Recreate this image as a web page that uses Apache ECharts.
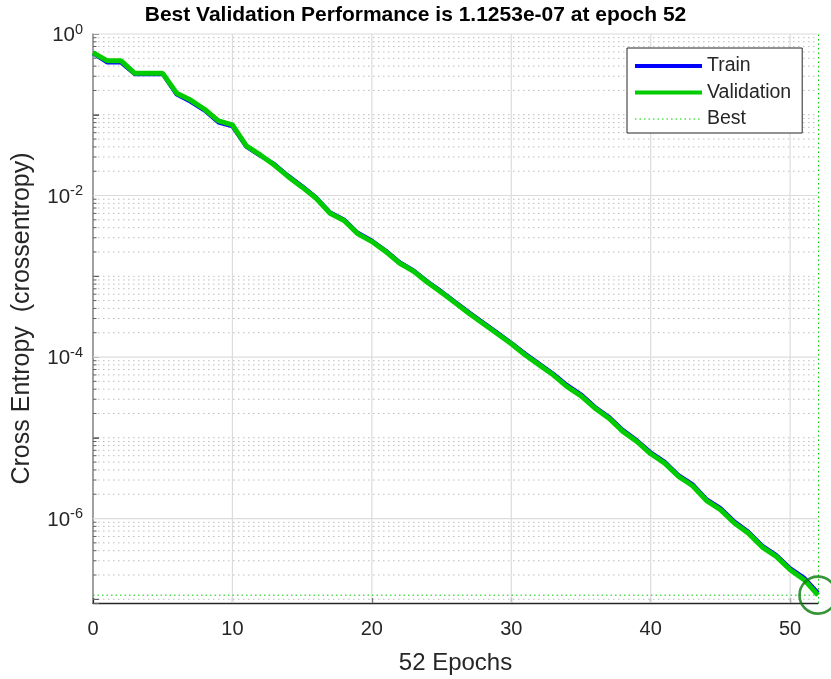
<!DOCTYPE html>
<html><head><meta charset="utf-8">
<script src="https://cdn.jsdelivr.net/npm/echarts@6/dist/echarts.min.js"></script>
<style>html,body{margin:0;padding:0;background:#fff}#c{width:831px;height:679px}</style>
</head><body><div id="c"></div>
<script>
// ---- data ----
const epochs = [0,1,2,3,4,5,6,7,8,9,10,11,12,13,14,15,16,17,18,19,20,21,22,23,24,25,26,27,28,29,30,31,32,33,34,35,36,37,38,39,40,41,42,43,44,45,46,47,48,49,50,51,52];
const trainPerf = [0.575,0.445,0.445,0.318,0.318,0.318,0.178,0.145,0.113,0.080,0.072,0.040,0.031,
  0.0245,0.0176,0.0131,0.0095,0.0062,0.00505,0.00345,0.00277,0.00208,0.00149,0.00118,0.00086,0.000648,0.000479,
  3.55e-4,2.66e-4,2.0e-4,1.5e-4,1.1e-4,8.3e-5,6.25e-5,4.5e-5,3.45e-5,2.42e-5,1.82e-5,1.25e-5,9.35e-6,
  6.6e-6,5.05e-6,3.45e-6,2.66e-6,1.74e-6,1.35e-6,9.2e-7,6.9e-7,4.62e-7,3.55e-7,2.43e-7,1.86e-7,1.2e-7];
const valPerf = [0.587,0.467,0.467,0.326,0.326,0.326,0.185,0.152,0.117,0.0838,0.0748,0.0411,0.0318,
  0.0238,0.0171,0.0127,0.00925,0.00604,0.0049,0.00335,0.00269,0.00202,0.00145,0.00115,0.000836,0.000629,0.000465,
  3.43e-4,2.58e-4,1.94e-4,1.46e-4,1.06e-4,8.0e-5,6.02e-5,4.31e-5,3.31e-5,2.33e-5,1.75e-5,1.20e-5,9.0e-6,
  6.34e-6,4.86e-6,3.32e-6,2.55e-6,1.67e-6,1.29e-6,8.8e-7,6.6e-7,4.43e-7,3.40e-7,2.32e-7,1.75e-7,1.1253e-7];
const bestEpoch = 52;
const bestPerf = 1.1253e-7;
const xTicks = [0,10,20,30,40,50];
const yLabelExps = [0,-2,-4,-6];
const yMin = 9e-8, yMax = 1;
const xMax = 52;

// ---- styles ----
const FONT = 'Liberation Sans, Arial, Helvetica, sans-serif';
const TXT = '#262626';
const GRID_MAJOR = '#dcdcdc';
const GRID_MINOR = '#bdbdbd';
const GREEN = '#00cc00';
const BLUE = '#0000ff';
const HIDE_SYMBOL = {color: 'rgba(0,0,0,0)', borderWidth: 0, opacity: 0};

// horizontal grid positions: [y value, kind] kind 0 = labelled decade (solid), 1 = odd decade, 2 = 2..9 multiples
const hGrid = [];
for (let n = -8; n <= 0; n++) {
  for (let k = 1; k <= 9; k++) {
    const v = k * Math.pow(10, n);
    if (v <= yMin * 1.0001 || v > yMax * 1.0001) continue;
    const kind = k !== 1 ? 2 : (yLabelExps.indexOf(n) >= 0 ? 0 : 1);
    hGrid.push([v, kind]);
  }
}
const vGrid = xTicks.slice(1).map(v => [v]);

const chart = echarts.init(document.getElementById('c'), null, {renderer: 'canvas'});
chart.setOption({
  animation: false,
  backgroundColor: '#fff',
  textStyle: {fontFamily: FONT},
  title: {
    text: 'Best Validation Performance is 1.1253e-07 at epoch 52',
    left: 'center', top: 5, padding: 0,
    textStyle: {fontFamily: FONT, fontSize: 21, fontWeight: 'bold', color: '#000'}
  },
  legend: {
    orient: 'vertical', left: 627, top: 48,
    padding: [8, 11, 4, 6],
    itemWidth: 67, itemHeight: 20, itemGap: 6.5,
    backgroundColor: '#fff', borderColor: TXT, borderWidth: 1, borderRadius: 0,
    selectedMode: false,
    textStyle: {fontFamily: FONT, fontSize: 19.5, color: TXT, lineHeight: 20},
    data: [
      {name: 'Train', itemStyle: HIDE_SYMBOL, lineStyle: {color: BLUE, width: 4, type: 'solid'}},
      {name: 'Validation', itemStyle: HIDE_SYMBOL, lineStyle: {color: GREEN, width: 4, type: 'solid'}},
      {name: 'Best', itemStyle: HIDE_SYMBOL, lineStyle: {color: GREEN, width: 1, type: [1.5, 3]}}
    ]
  },
  grid: {left: 93, right: 13, top: 34, bottom: 76, containLabel: false, outerBoundsMode: 'none'},
  xAxis: {
    type: 'value', min: 0, max: xMax, interval: 10,
    axisLine: {show: true, onZero: false, lineStyle: {color: TXT, width: 1.3}},
    axisTick: {show: true, inside: true, length: 5, customValues: xTicks, lineStyle: {color: TXT, width: 1.2}},
    axisLabel: {customValues: xTicks, fontFamily: FONT, fontSize: 20, color: TXT, margin: 16},
    splitLine: {show: false},
    name: '52 Epochs', nameLocation: 'middle', nameGap: 48,
    nameTextStyle: {fontFamily: FONT, fontSize: 24, color: TXT}
  },
  yAxis: {
    type: 'log', logBase: 10, min: yMin, max: yMax,
    axisLine: {show: true, lineStyle: {color: '#808080', width: 1.5}},
    axisTick: {show: true, inside: true, length: 6, lineStyle: {color: '#606060', width: 1}},
    axisLabel: {
      margin: 10,
      formatter: function (val) {
        const e = Math.log10(val);
        const r = Math.round(e);
        if (Math.abs(e - r) > 1e-6 || yLabelExps.indexOf(r) < 0) return '';
        return '{b|10}{s|' + (r === 0 ? '0' : r) + '}';
      },
      rich: {
        b: {fontFamily: FONT, fontSize: 20.5, color: TXT, lineHeight: 24, verticalAlign: 'bottom'},
        s: {fontFamily: FONT, fontSize: 14.5, color: TXT, lineHeight: 24, verticalAlign: 'top'}
      }
    },
    splitLine: {show: false},
    name: 'Cross Entropy  (crossentropy)', nameLocation: 'middle', nameGap: 58,
    nameTextStyle: {fontFamily: FONT, fontSize: 25, color: TXT}
  },
  series: [
    {
      name: 'hgrid', type: 'custom', z: 1, silent: true,
      data: hGrid,
      renderItem: function (params, api) {
        const v = api.value(0), kind = api.value(1);
        const p = api.coord([0, v]);
        const q = api.coord([xMax, v]);
        const children = [{
          type: 'line', shape: {x1: p[0], y1: p[1], x2: q[0], y2: q[1]},
          style: kind === 0
            ? {stroke: GRID_MAJOR, lineWidth: 1.2}
            : {stroke: GRID_MINOR, lineWidth: 1, lineDash: [1.5, 3.5]}
        }];
        if (kind !== 0) {
          children.push({type: 'line', shape: {x1: p[0], y1: p[1], x2: p[0] + (kind === 1 ? 6 : 3.5), y2: p[1]},
            style: {stroke: '#606060', lineWidth: 1}});
        }
        return {type: 'group', children: children};
      }
    },
    {
      name: 'vgrid', type: 'custom', z: 1, silent: true,
      data: vGrid,
      renderItem: function (params, api) {
        const x = api.value(0);
        const p = api.coord([x, yMin]);
        const q = api.coord([x, yMax]);
        return {type: 'line', shape: {x1: p[0], y1: p[1], x2: q[0], y2: q[1]},
          style: {stroke: GRID_MAJOR, lineWidth: 1.2}};
      }
    },
    {
      name: 'Best', type: 'line', z: 5, silent: true, symbol: 'none',
      data: [[0, bestPerf], [bestEpoch, bestPerf]],
      itemStyle: {color: GREEN},
      lineStyle: {color: GREEN, width: 1, type: [1.5, 3]},
      markLine: {silent: true, symbol: 'none', z: 5, label: {show: false},
        lineStyle: {color: GREEN, width: 1, type: [1.5, 3]},
        data: [{xAxis: bestEpoch}]}
    },
    {
      name: 'Train', type: 'line', z: 10, symbol: 'none', clip: false,
      data: epochs.map((e, i) => [e, trainPerf[i]]),
      itemStyle: {color: BLUE},
      lineStyle: {color: BLUE, width: 4}
    },
    {
      name: 'Validation', type: 'line', z: 11, symbol: 'none', clip: false,
      data: epochs.map((e, i) => [e, valPerf[i]]),
      itemStyle: {color: GREEN},
      lineStyle: {color: GREEN, width: 5}
    },
    {
      name: 'bestCircle', type: 'scatter', z: 12, silent: true, clip: false,
      data: [[bestEpoch, bestPerf]],
      symbol: 'circle', symbolSize: 37,
      itemStyle: {color: 'rgba(0,0,0,0)', borderColor: '#087a08', borderWidth: 2.6}
    }
  ]
});
</script></body></html>
